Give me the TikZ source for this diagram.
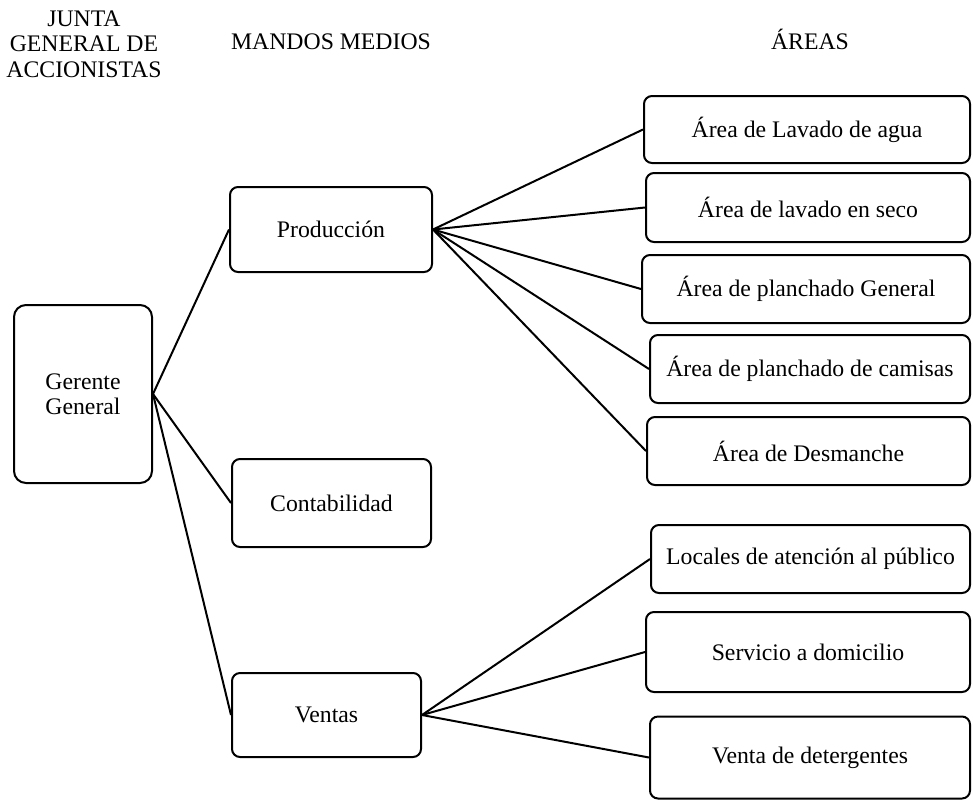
\documentclass[tikz,border=0pt]{standalone}
\usepackage{fontspec}
\setmainfont{Liberation Serif}
\usetikzlibrary{positioning}

\begin{document}
\begin{tikzpicture}[
    x=0.75pt, y=-0.75pt,
    every node/.style = {font=\fontsize{17.8}{19}\selectfont, align=center, inner sep=0pt},
    caja/.style = {draw, line width=1.5pt, rounded corners=6pt},
    area/.style = {caja, anchor=east},
    enlace/.style = {line width=1.5pt}
  ]
  \useasboundingbox (0,0) rectangle (973,800);

  % encabezados
  \node (junta) at (84,44) {JUNTA\\GENERAL DE\\ACCIONISTAS};
  \node[anchor=base] (mandos) at (331,49) {MANDOS MEDIOS};
  \node[anchor=base] (areas) at (810,49) {ÁREAS};

  % gerencia y mandos medios
  \node[caja, rounded corners=9pt, minimum width=103.5pt, minimum height=133.5pt] (ger) at (83,394) {Gerente\\General};
  \node[caja, minimum width=151.5pt, minimum height=63.75pt] (prod) at (331,229.5) {Producción};
  \node[caja, minimum width=149.25pt, minimum height=66pt] (cont) at (331.5,503) {Contabilidad};
  \node[caja, minimum width=141.75pt, minimum height=63pt] (vent) at (326.5,715) {Ventas};

  % areas de produccion
  \node[area, minimum width=244.5pt, minimum height=50.25pt] (a1) at (971,129.5) {Área de Lavado de agua};
  \node[area, minimum width=243pt, minimum height=51.75pt] (a2) at (971,207.5) {Área de lavado en seco};
  \node[area, minimum width=246pt, minimum height=51pt] (a3) at (971,289) {Área de planchado General};
  \node[area, minimum width=240pt, minimum height=51pt] (a4) at (971,369) {Área de planchado de camisas};
  \node[area, minimum width=242.25pt, minimum height=51pt] (a5) at (971,451) {Área de Desmanche};

  % areas de ventas
  \node[area, minimum width=239.25pt, minimum height=51pt] (v1) at (971,559) {Locales de atención al público};
  \node[area, minimum width=243pt, minimum height=60pt] (v2) at (971,652) {Servicio a domicilio};
  \node[area, minimum width=240pt, minimum height=61.5pt] (v3) at (971,757.5) {Venta de detergentes};

  \draw[enlace] (ger.east) -- (prod.west);
  \draw[enlace] (ger.east) -- (cont.west);
  \draw[enlace] (ger.east) -- (vent.west);

  \draw[enlace] (prod.east) -- (a1.west);
  \draw[enlace] (prod.east) -- (a2.west);
  \draw[enlace] (prod.east) -- (a3.west);
  \draw[enlace] (prod.east) -- (a4.west);
  \draw[enlace] (prod.east) -- (a5.west);

  \draw[enlace] (vent.east) -- (v1.west);
  \draw[enlace] (vent.east) -- (v2.west);
  \draw[enlace] (vent.east) -- (v3.west);
\end{tikzpicture}
\end{document}
